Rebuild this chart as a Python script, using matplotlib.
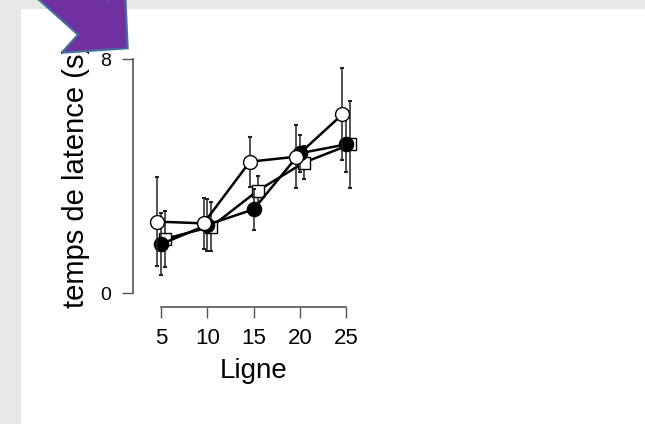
import numpy as np
import matplotlib
matplotlib.use("Agg")
import matplotlib.pyplot as plt
import matplotlib.transforms as mtransforms
from matplotlib.patches import Polygon, Rectangle

plt.rcParams['font.family'] = ['Liberation Sans', 'DejaVu Sans']

# Data
lignes = [5, 10, 15, 20, 25]
open_mean = [2.45, 2.39, 4.50, 4.67, 6.12]
open_err = [1.52, 0.88, 0.86, 1.08, 1.57]
filled_mean = [1.68, 2.34, 2.87, 4.79, 5.09]
filled_err = [1.05, 0.90, 0.71, 0.63, 0.93]
square_mean = [1.86, 2.28, 3.51, 4.47, 5.09]
square_err = [0.95, 0.85, 0.50, 0.55, 1.49]
y_ticks = [0, 8]

W, H = 645, 424
fig = plt.figure(figsize=(W / 100, H / 100), dpi=100)
fig.patch.set_facecolor('#e7e7e7')

# white slide panel
bg = fig.add_axes([0, 0, 1, 1], zorder=-1)
bg.set_xlim(0, W)
bg.set_ylim(H, 0)
bg.axis('off')
bg.add_patch(Rectangle((21, 9), W - 21, H - 9, facecolor='white', edgecolor='none'))

# main plot region (pixel box: left 133, right 360, top 50, bottom 306.7)
left, right, top, bottom = 133, 360, 50, 306.7
ax = fig.add_axes([left / W, 1 - bottom / H, (right - left) / W, (bottom - top) / H])
ax.patch.set_alpha(0)
ax.set_xlim(1.97, 26.5)
ax.set_ylim(-0.46, 8.32)

x = np.array(lignes, dtype=float)
series = [
    (square_mean, square_err, 0.45, 's', 'white', 8.8),
    (filled_mean, filled_err, 0.0, 'o', 'black', 10.2),
    (open_mean, open_err, -0.4, 'o', 'white', 10),
]
for i, (m, e, dx, mk, fc, ms) in enumerate(series):
    ax.errorbar(x + dx, m, yerr=e, fmt='none', ecolor='#222222', elinewidth=1.1,
                capsize=1.2, capthick=1.5, zorder=2 + i)
    ax.plot(x + dx, m, color='black', lw=1.8, marker=mk, ms=ms, mfc=fc,
            mec='black', mew=1.0, zorder=2.5 + i)

for s in ['top', 'right']:
    ax.spines[s].set_visible(False)
ax.spines['left'].set_bounds(0, 8)
ax.spines['bottom'].set_bounds(5, 25)
for s in ['left', 'bottom']:
    ax.spines[s].set_color('#555555')
    ax.spines[s].set_linewidth(1.2)

ax.set_xticks(lignes)
ax.set_yticks(y_ticks)
ax.tick_params(axis='x', length=8, width=1, color='#555555', labelsize=16, pad=7)
ax.tick_params(axis='y', length=8, width=1, color='#555555', labelsize=14, pad=8)

ax.set_xlabel('Ligne', fontsize=20)
ax.xaxis.set_label_coords(15, -0.20,
                          transform=mtransforms.blended_transform_factory(ax.transData, ax.transAxes))
ax.set_ylabel('temps de latence (s)', fontsize=21)
ax.yaxis.set_label_coords(-0.19, 0.51)

# purple call-out arrow (slide decoration), pixel coords with y downward
arrow = fig.add_axes([0, 0, 1, 1], zorder=10)
arrow.set_xlim(0, W)
arrow.set_ylim(H, 0)
arrow.axis('off')
arrow_pts = [(127.7, 48.3), (61.7, 52.7), (78, 34.7), (18.3, -18.6),
             (48.8, -53), (108.5, 0.3), (124.7, -17.6)]
arrow.add_patch(Polygon(arrow_pts, closed=True, facecolor='#7030A0',
                        edgecolor='#41719C', lw=1.5, clip_on=False))

fig.savefig('out.png', dpi=100)
